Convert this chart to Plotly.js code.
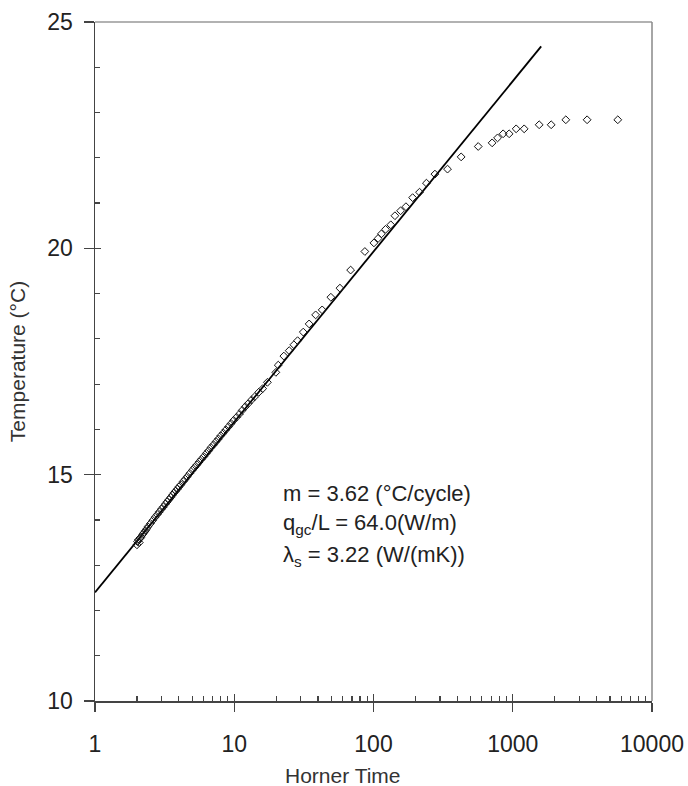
<!DOCTYPE html>
<html>
<head>
<meta charset="utf-8">
<script src="https://cdn.plot.ly/plotly-3.0.1.min.js"></script>
<style>html,body{margin:0;padding:0;background:#fff;}#chart{width:688px;height:786px;}</style>
</head>
<body>
<div id="chart"></div>
<script>
// Measured data (Horner time vs temperature)
const hornerTime = [2.0,2.02,2.05,2.08,2.1,2.15,2.2,2.25,2.3,2.35,2.4,2.5,2.6,2.7,2.8,2.9,3.0,3.1,3.2,3.3,3.4,3.5,3.6,3.7,3.8,3.9,4.0,4.15,4.3,4.45,4.6,4.8,5.0,5.2,5.4,5.6,5.8,6.05,6.3,6.55,6.8,7.1,7.4,7.7,8.0,8.35,8.7,9.1,9.5,9.9,10.4,10.9,11.4,12.0,12.6,13.3,14.0,15.0,16.0,17.3,19.9,20.7,22.7,24.8,26.8,28.5,31.3,34.5,38.4,42.8,49.4,57.4,68.5,86.7,100.7,108,114,122,133,142.5,156.5,171,191,214,240,276,340,426,565,711,778,853,942,1058,1208,1548,1888,2405,3420,5680];
const temperature = [13.45,13.52,13.56,13.50,13.60,13.62,13.68,13.72,13.76,13.80,13.85,13.92,13.99,14.06,14.12,14.18,14.24,14.29,14.35,14.40,14.45,14.50,14.55,14.60,14.64,14.68,14.73,14.78,14.85,14.90,14.96,15.03,15.10,15.16,15.22,15.28,15.34,15.40,15.47,15.53,15.60,15.66,15.73,15.79,15.86,15.92,15.99,16.06,16.13,16.20,16.27,16.34,16.42,16.50,16.57,16.65,16.72,16.82,16.90,17.04,17.26,17.42,17.62,17.74,17.87,17.96,18.15,18.33,18.53,18.64,18.92,19.12,19.52,19.93,20.12,20.22,20.32,20.42,20.52,20.72,20.83,20.92,21.12,21.24,21.44,21.64,21.75,22.02,22.25,22.33,22.44,22.53,22.53,22.64,22.64,22.73,22.73,22.84,22.84,22.84];
// Fitted line endpoints
const fitX = [1, 1600];
const fitY = [12.40, 24.46];
// Ticks
const xMajor = [1, 10, 100, 1000, 10000];
const xMajorText = ['1', '10', '100', '1000', '10000'];
const xMinor = [2,3,4,5,6,7,8,9,20,30,40,50,60,70,80,90,200,300,400,500,600,700,800,900,2000,3000,4000,5000,6000,7000,8000,9000];
const yMajor = [10, 15, 20, 25];
const yMinor = [11,12,13,14,16,17,18,19,21,22,23,24];
const xTitle = 'Horner Time';
const yTitle = 'Temperature (°C)';
const noteLines = ['m = 3.62 (°C/cycle)', 'q<sub>gc</sub>/L = 64.0(W/m)', 'λ<sub>s</sub> = 3.22 (W/(mK))'];

const FONT = 'Liberation Sans, Arial, sans-serif';
const AX = '#444';

const traces = [
  {x: fitX, y: fitY, mode: 'lines', line: {color: '#000', width: 1.8}, hoverinfo: 'skip', showlegend: false},
  {x: hornerTime, y: temperature, mode: 'markers', marker: {symbol: 'diamond-open', size: 6, color: '#111', line: {width: 1}}, showlegend: false},
  {x: [], y: [], xaxis: 'x2', yaxis: 'y2', showlegend: false, hoverinfo: 'skip'},
  {x: [], y: [], xaxis: 'x3', yaxis: 'y3', showlegend: false, hoverinfo: 'skip'}
];

const baseX = {type: 'log', range: [0, 4], showgrid: false, zeroline: false, fixedrange: true};
const baseY = {range: [10, 25], showgrid: false, zeroline: false, fixedrange: true};

const notes = noteLines.map((t, i) => ({
  text: t, xref: 'paper', yref: 'paper', x: 0.334, y: [0.306, 0.260, 0.213][i],
  xanchor: 'left', yanchor: 'middle', showarrow: false,
  font: {size: 22, family: FONT, color: '#222'}
}));
notes.push({
  text: xTitle, xref: 'paper', yref: 'paper', x: 0.445, y: -0.109,
  xanchor: 'center', yanchor: 'middle', showarrow: false,
  font: {size: 21, family: FONT, color: '#333'}
});

const layout = {
  width: 688, height: 786,
  margin: {l: 95, r: 36, t: 22, b: 85},
  paper_bgcolor: '#fff', plot_bgcolor: '#fff',
  font: {family: FONT, color: '#222'},
  showlegend: false,
  xaxis: Object.assign({}, baseX, {
    tickmode: 'array', tickvals: xMajor, ticktext: xMajorText,
    ticks: 'outside', ticklen: 9, tickwidth: 1.3, tickcolor: AX,
    showline: true, linecolor: AX, linewidth: 1.5,
    tickfont: {size: 23, family: FONT, color: '#222'}, ticklabelstandoff: 13,
    automargin: false
  }),
  yaxis: Object.assign({}, baseY, {
    tickmode: 'array', tickvals: yMajor,
    ticks: 'outside', ticklen: 10, tickwidth: 1.3, tickcolor: AX,
    showline: true, linecolor: AX, linewidth: 1.5,
    tickfont: {size: 23, family: FONT, color: '#222'}, ticklabelstandoff: 6,
    title: {text: yTitle, font: {size: 21, family: FONT, color: '#333'}, standoff: 16},
    automargin: false
  }),
  xaxis2: Object.assign({}, baseX, {overlaying: 'x', anchor: 'y', tickmode: 'array', tickvals: xMinor,
    ticks: 'inside', ticklen: 5, tickwidth: 1.2, tickcolor: AX, showticklabels: false, showline: false}),
  yaxis2: Object.assign({}, baseY, {overlaying: 'y', anchor: 'x', tickmode: 'array', tickvals: yMinor,
    ticks: 'inside', ticklen: 5, tickwidth: 1.2, tickcolor: AX, showticklabels: false, showline: false}),
  xaxis3: Object.assign({}, baseX, {overlaying: 'x', anchor: 'y', tickmode: 'array', tickvals: xMajor,
    ticks: 'inside', ticklen: 7, tickwidth: 1.3, tickcolor: AX, showticklabels: false, showline: false}),
  yaxis3: Object.assign({}, baseY, {overlaying: 'y', anchor: 'x', tickmode: 'array', tickvals: yMajor,
    ticks: 'inside', ticklen: 6, tickwidth: 1.3, tickcolor: AX, showticklabels: false, showline: false}),
  shapes: [
    {type: 'line', xref: 'paper', yref: 'paper', x0: 0, x1: 1, y0: 1, y1: 1, line: {color: '#999', width: 1.5}},
    {type: 'line', xref: 'paper', yref: 'paper', x0: 1, x1: 1, y0: 0, y1: 1, line: {color: '#888', width: 1.5}}
  ],
  annotations: notes
};

Plotly.newPlot('chart', traces, layout, {staticPlot: true, displayModeBar: false});
</script>
</body>
</html>
